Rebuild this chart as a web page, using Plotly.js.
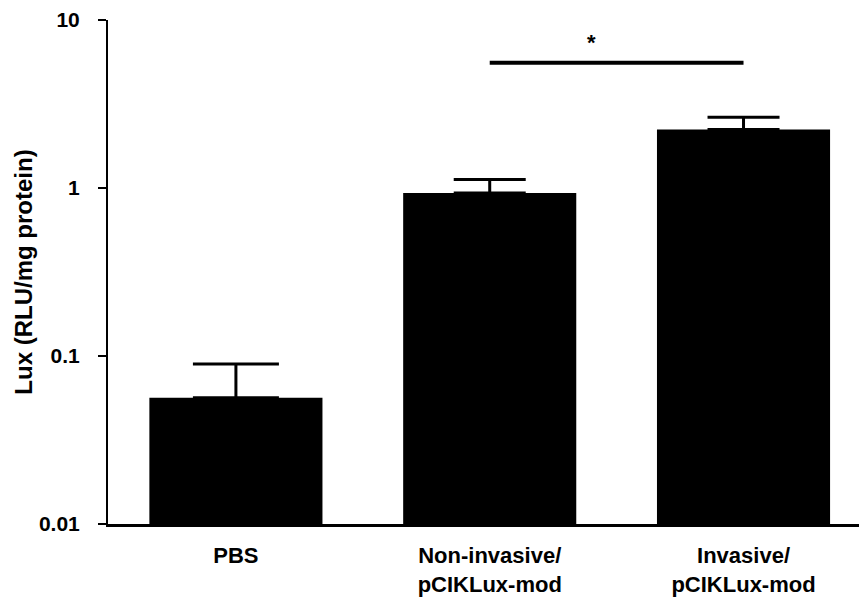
<!DOCTYPE html>
<html>
<head>
<meta charset="utf-8">
<script src="https://cdn.plot.ly/plotly-3.0.1.min.js"></script>
<style>html,body{margin:0;padding:0;background:#fff;}#chart{width:859px;height:601px;}</style>
</head>
<body>
<div id="chart"></div>
<script>
const categories = ["PBS", "Non-invasive/<br>pCIKLux-mod", "Invasive/<br>pCIKLux-mod"];
const values = [0.0565, 0.934, 2.23];
const errorsPlus = [0.033, 0.188, 0.41];
const capHalfWidths = [43, 36, 36];
const yTickVals = [0.01, 0.1, 1, 10];
const yTickText = ["0.01", "0.1", "1", "10"];
const sigFrom = 1, sigTo = 2, sigLabel = "*";

const FONT = "Liberation Sans, Arial, Helvetica, sans-serif";

const traces = categories.map((c, i) => ({
  type: "bar",
  x: [c],
  y: [values[i]],
  width: 0.682,
  marker: {color: "#000", line: {width: 0}},
  error_y: {type: "data", symmetric: false, array: [errorsPlus[i]], arrayminus: [0],
            color: "#000", thickness: 3, width: capHalfWidths[i]},
  showlegend: false,
  hoverinfo: "skip"
}));

const layout = {
  width: 859, height: 601,
  margin: {l: 108, r: 0, t: 20, b: 77, pad: 0},
  paper_bgcolor: "#fff", plot_bgcolor: "#fff",
  barmode: "overlay",
  font: {family: FONT, color: "#000"},
  xaxis: {
    type: "category",
    range: [-0.504, 2.455],
    showline: true, linecolor: "#000", linewidth: 2.5,
    showgrid: false, zeroline: false, ticks: "",
    tickfont: {family: FONT, size: 22, weight: "bold", color: "#000"},
    ticklabelstandoff: 10,
    fixedrange: true
  },
  yaxis: {
    type: "log",
    range: [-2, 1],
    tickvals: yTickVals, ticktext: yTickText,
    showline: true, linecolor: "#000", linewidth: 2,
    ticks: "outside", ticklen: 8, tickwidth: 2, tickcolor: "#000",
    showgrid: false, zeroline: false,
    tickfont: {family: FONT, size: 21, weight: "bold", color: "#000"},
    ticklabelstandoff: 14,
    title: {text: "Lux (RLU/mg protein)", font: {family: FONT, size: 24, weight: "bold", color: "#000"}, standoff: 0},
    fixedrange: true
  },
  shapes: [{
    type: "line", xref: "x", yref: "paper",
    x0: sigFrom, x1: sigTo, y0: 0.915, y1: 0.915,
    line: {color: "#000", width: 4}
  }],
  annotations: [{
    xref: "x", yref: "paper", x: 1.4, y: 0.955,
    text: sigLabel, showarrow: false,
    font: {family: FONT, size: 22, weight: "bold", color: "#000"},
    xanchor: "center", yanchor: "middle"
  }]
};

Plotly.newPlot("chart", traces, layout, {displayModeBar: false, staticPlot: true});
</script>
</body>
</html>
